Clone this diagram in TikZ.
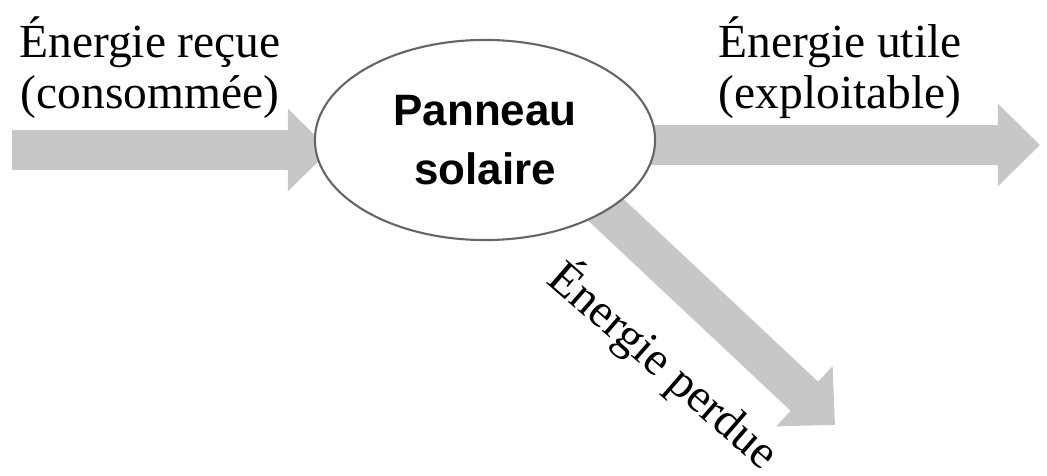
\documentclass[tikz,border=0pt]{standalone}
\usepackage{fontspec}
\setmainfont{Liberation Serif}
\setsansfont{Liberation Sans}
\usetikzlibrary{shapes.geometric,arrows.meta,positioning}
\tikzset
{
    flow/.style  = {draw=black!22, line width=0.4cm, -{Triangle[length=0.42cm, width=0.8cm]}},
    panel/.style = {ellipse, draw=black!60, line width=0.6pt, fill=white, minimum width=3.4cm, minimum height=2cm, align=center, font=\sffamily\bfseries\fontsize{12.5}{15}\selectfont},
    label/.style = {align=center, font=\fontsize{13.5}{14.5}\selectfont}
}
\begin{document}
\begin{tikzpicture}[x=0.01cm, y=-0.01cm]
    \useasboundingbox (0,0) rectangle (1047,476);
    \coordinate (in) at (12,150);
    \coordinate (out) at (1040,145);
    \coordinate (lostfrom) at (590,195);
    \coordinate (lost) at (835,425);
    % flows
    \draw [flow] (in) -- (330,150);
    \draw [flow] (640,145) -- (out);
    \draw [flow] (lostfrom) -- (lost);
    \node [panel] (panneau) at (485,140) {Panneau\\[2pt]solaire};
    % labels
    \node [label] (recue) at (150,68) {Énergie reçue\\(consommée)};
    \node [label] (utile) at (840,68) {Énergie utile\\(exploitable)};
    \node [label, rotate=-41] (perdue) at (664,365) {Énergie perdue};
\end{tikzpicture}
\end{document}
